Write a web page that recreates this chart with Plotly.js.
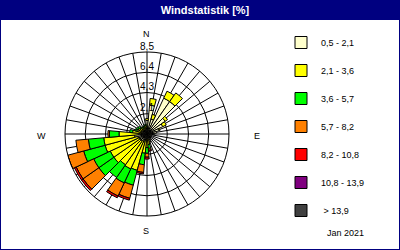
<!DOCTYPE html>
<html>
<head>
<meta charset="utf-8">
<script src="https://cdn.plot.ly/plotly-3.0.1.min.js"></script>
<style>html,body{margin:0;padding:0;background:#fff;}#chart{width:400px;height:250px;}</style>
</head>
<body>
<div id="chart"></div>
<script>
// Directions (degrees, clockwise from North)
var directions = [0,10,20,30,40,50,60,70,80,90,100,110,120,130,140,150,160,170,180,190,200,210,220,230,240,250,260,270,280,290,300,310,320,330,340,350];

// Frequency [%] per speed class
var s1 = [1.4,3.0,1.6,4.1,4.1,2.3,1.8,1.3,1.0,0.8,0.5,0.4,0.4,0.5,0.6,0.7,0.8,0.6,0.6,0.7,0.8,0.8,0.9,0.9,0.9,1.0,1.3,0.9,0.7,0.6,0.6,0.6,0.5,0.5,0.6,0.7];
var s2 = [0.2,0.7,0.5,0.8,1.1,0.3,0.4,0.1,0.0,0.0,0.0,0.0,0.0,0.0,0.0,0.0,0.1,0.5,0.8,1.3,3.1,3.2,3.0,3.3,3.3,3.5,3.2,2.0,0.8,0.5,0.4,0.3,0.3,0.2,0.2,0.2];
var s3 = [0.0,0.0,0.0,0.0,0.0,0.0,0.0,0.0,0.0,0.0,0.0,0.0,0.0,0.0,0.0,0.0,0.0,0.4,0.6,1.2,1.6,1.6,1.6,1.9,1.9,2.3,1.6,1.0,0.3,0.2,0.2,0.2,0.1,0.1,0.1,0.1];
var s4 = [0.0,0.0,0.0,0.0,0.0,0.0,0.0,0.0,0.0,0.0,0.0,0.0,0.0,0.0,0.0,0.0,0.0,0.2,0.4,0.8,1.4,1.5,0.0,2.0,2.0,1.7,1.3,0.15,0.0,0.0,0.0,0.0,0.0,0.0,0.0,0.0];
var s5 = [0.0,0.0,0.0,0.0,0.0,0.0,0.0,0.0,0.0,0.0,0.0,0.0,0.0,0.0,0.0,0.0,0.0,0.1,0.2,0.15,0.2,0.2,0.0,0.2,0.2,0.2,0.0,0.0,0.0,0.0,0.0,0.0,0.0,0.0,0.0,0.0];
var s6 = [0,0,0,0,0,0,0,0,0,0,0,0,0,0,0,0,0,0,0,0,0,0,0,0,0,0,0,0,0,0,0,0,0,0,0,0];
var s7 = [0,0,0,0,0,0,0,0,0,0,0,0,0,0,0,0,0,0,0,0,0,0,0,0,0,0,0,0,0,0,0,0,0,0,0,0];

var classNames = ['0,5 - 2,1','2,1 - 3,6','3,6 - 5,7','5,7 - 8,2','8,2 - 10,8','10,8 - 13,9',' > 13,9'];
var classColors = ['#FFFFCC','#FFFF00','#00FF00','#FF8000','#FF0000','#800080','#404040'];

var ringValues = [2.1,4.3,6.4,8.5];
var ringLabels = ['2,1','4,3','6,4','8,5'];

var series = [s1,s2,s3,s4,s5,s6,s7];
var data = series.map(function(s,i){
  return {
    type:'barpolar', r:s, theta:directions, name:classNames[i],
    width:10, legendgroup:'g'+i,
    marker:{color:classColors[i], line:{color:'black', width:1}},
    hoverinfo:'skip'
  };
});
data.push({
  type:'scatterpolar', mode:'text', r:ringValues, theta:ringValues.map(function(){return 0;}),
  text:ringLabels, textposition:'top center', showlegend:false, cliponaxis:false,
  textfont:{family:'Liberation Sans', size:10, color:'black'}, hoverinfo:'skip'
});

var navy = '#000080';
var layout = {
  width:400, height:250,
  margin:{l:0,r:0,t:0,b:0},
  paper_bgcolor:'white',
  showlegend:true,
  title:{text:'<b>Windstatistik [%]</b>', x:205/400, xanchor:'center', y:1-10/250, yanchor:'middle', yref:'container',
         font:{family:'Liberation Sans', size:11, color:'white'}},
  polar:{
    domain:{x:[65/400,229/400], y:[34/250,198/250]},
    bgcolor:'white',
    barmode:'stack',
    radialaxis:{range:[0,8.5], tickvals:ringValues, showticklabels:false, ticks:'', showline:false, gridcolor:'black', gridwidth:1},
    angularaxis:{rotation:90, direction:'clockwise', dtick:10, showticklabels:false, ticks:'', gridcolor:'black', linecolor:'black', linewidth:1}
  },
  legend:{x:281/400, xanchor:'left', y:1-28/250, yanchor:'top', traceorder:'grouped', tracegroupgap:9,
          font:{family:'Liberation Sans', size:9, color:'black'}, bgcolor:'rgba(0,0,0,0)', itemclick:false, itemdoubleclick:false},
  shapes:[
    {type:'rect', xref:'paper', yref:'paper', x0:0, x1:1, y0:1-20/250, y1:1, fillcolor:navy, line:{width:0}, layer:'below'},
    {type:'rect', xref:'paper', yref:'paper', x0:0, x1:1, y0:0, y1:1, line:{color:navy, width:2}, fillcolor:'rgba(0,0,0,0)'}
  ],
  annotations:[
    {text:'N', x:146/400, y:1-27/250, xref:'paper', yref:'paper', showarrow:false, font:{family:'Liberation Sans', size:9, color:'black'}},
    {text:'S', x:146/400, y:1-238/250, xref:'paper', yref:'paper', showarrow:false, font:{family:'Liberation Sans', size:9, color:'black'}},
    {text:'W', x:35/400, y:1-136/250, xref:'paper', yref:'paper', showarrow:false, font:{family:'Liberation Sans', size:9, color:'black'}},
    {text:'E', x:257/400, y:1-136/250, xref:'paper', yref:'paper', showarrow:false, font:{family:'Liberation Sans', size:9, color:'black'}},
    {text:'Jan 2021', x:366/400, y:1-240/250, xref:'paper', yref:'paper', showarrow:false, font:{family:'Liberation Sans', size:9, color:'black'}}
  ]
};

Plotly.newPlot('chart', data, layout, {displayModeBar:false, staticPlot:true});
</script>
</body>
</html>
